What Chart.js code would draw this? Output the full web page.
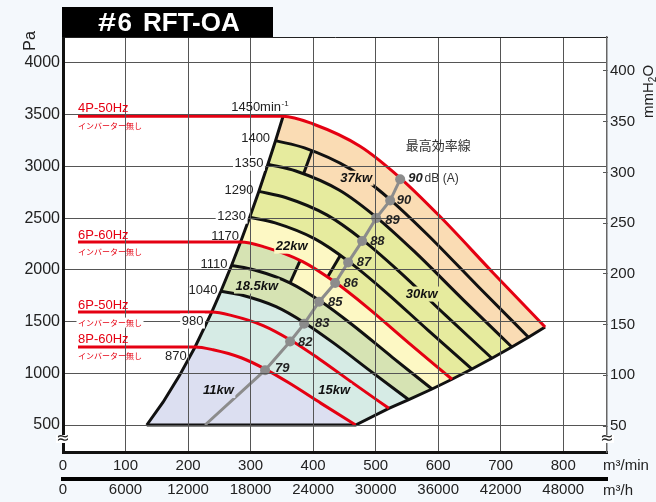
<!DOCTYPE html>
<html lang="ja">
<head>
<meta charset="utf-8">
<title>#6 RFT-OA</title>
<script src="https://cdn.jsdelivr.net/npm/chart.js@4.4.0/dist/chart.umd.min.js"></script>
<style>
  html, body { margin: 0; padding: 0; background: #f4f8fc; overflow: hidden; }
  canvas { display: block; }
</style>
</head>
<body>
<canvas id="curvas" width="656" height="502"></canvas>
<script>
// ===== datos: [m3/min, Pa] =====
const velocidades = [870, 980, 1040, 1110, 1170, 1230, 1290, 1350, 1400, 1450];

const c870  = [[211.2,1254.6],[240.0,1227.6],[285.0,1150.2],[323.4,1040.4],[361.8,905.4],[412.8,709.2],[468,500]];
const c980  = [[237.9,1591.9],[270.3,1557.6],[321.0,1459.4],[364.3,1320.1],[407.5,1148.8],[465.0,899.9],[521.1,661.0]];
const c1040 = [[252.5,1792.8],[286.9,1754.2],[340.7,1643.6],[386.6,1486.7],[432.5,1293.8],[493.5,1013.4],[553.0,744.4]];
const c1110 = [[269.5,2042.3],[306.2,1998.4],[363.6,1872.4],[412.6,1693.6],[461.6,1473.9],[526.7,1154.5],[590.2,848.0]];
const c1170 = [[284.0,2269.0],[322.8,2220.2],[383.3,2080.2],[434.9,1881.6],[486.6,1637.5],[555.1,1282.6],[622.1,942.1]];
const c1230 = [[298.6,2507.7],[339.3,2453.7],[402.9,2299.0],[457.2,2079.6],[511.5,1809.7],[583.6,1417.6],[654.0,1041.2]];
const c1290 = [[313.2,2758.3],[355.9,2699.0],[422.6,2528.8],[479.5,2287.4],[536.5,1990.6],[612.1,1559.2],[685.9,1145.3]];
const c1350 = [[327.7,3020.9],[372.4,2955.9],[442.2,2769.5],[501.8,2505.1],[561.4,2180.1],[640.5,1707.7],[717.8,1254.3]];
const c1400 = [[339.9,3248.8],[386.2,3178.9],[458.6,2978.4],[520.4,2694.1],[582.2,2344.5],[664.3,1836.5],[744.4,1348.9]];
const c1450 = [[352,3485],[400,3410],[475,3195],[539,2890],[603,2515],[688,1970],[771,1447]];

// velocidades con motor sin inversor (lineas rojas)
const rojas = [870, 980, 1170, 1450];
const inicioRojas = 24;   // m3/min donde empieza la linea horizontal

// pie de la linea de bombeo (surge) por debajo de 870
const pieSurge = [[134,500],[160,720],[186,975]];

// divisores de potencia (kW)
const divisor1 = [[384.5,2923.6],[397.9,3146]];   // 30kw / 37kw
const divisor2 = [[422.9,1928],[443.2,2136]];     // 22kw / 30kw
const divisor3 = [[363.2,1873],[379.2,2090]];     // 18.5kw / 22kw

// linea de maximo rendimiento
const eficienciaQ = [227.2, 323.2, 363.2, 385.6, 409.6, 435.2, 456, 478.4, 500.8, 523.2, 539.2];
const eficienciaP = [500, 1030, 1308, 1478, 1692, 1872, 2072, 2278, 2500, 2670, 2875];
const eficienciaDb = ['', '79', '82', '83', '85', '86', '87', '88', '89', '90', '90'];

// ticks de los ejes
const ticksPa = [500, 1000, 1500, 2000, 2500, 3000, 3500, 4000];
const ticksMm = [50, 100, 150, 200, 250, 300, 350, 400];
const ticksMin = [0, 100, 200, 300, 400, 500, 600, 700, 800];
const ticksHora = [0, 6000, 12000, 18000, 24000, 30000, 36000, 42000, 48000];

// ===== estilos =====
const FUENTE = "'Liberation Sans', Arial, sans-serif";
const FUENTE_JP = "'Noto Sans CJK JP', sans-serif";
const ROJO = '#e50012';
const colores = { c37: '#fadcb4', c30: '#e6eb9e', c22: '#fdf8c4', c18: '#d6e3b3', c15: '#d6ebe5', c11: '#dcdff1' };

const curvas = [c870, c980, c1040, c1110, c1170, c1230, c1290, c1350, c1400, c1450];
const surge = pieSurge.concat(curvas.map(c => c[0]));
const limite = [pieSurge[0]].concat(curvas.map(c => c[c.length - 1]));

function pts(arr) { return arr.map(p => ({ x: p[0], y: p[1] })); }

// borde superior de la zona: surge hasta el inicio de la curva i y luego la curva
function arriba(i) { return surge.slice(0, pieSurge.length + i).concat(curvas[i]); }

var datasets = [];
function nuevo(d) {
    datasets.push(Object.assign({
        pointRadius: 0, pointHoverRadius: 0, fill: false, tension: 0,
        borderWidth: 0, borderColor: 'transparent', backgroundColor: 'transparent'
    }, d));
    return datasets.length - 1;
}

// limite inferior + derecho (tambien se dibuja)
const iLimite = nuevo({ data: pts(limite), borderColor: '#111', borderWidth: 3, order: 2 });

function capa(path, color, orden) {
    nuevo({ data: pts(path), fill: { target: iLimite }, backgroundColor: color, order: orden });
}
function cuadro(sup, inf, color, orden) {
    const j = nuevo({ data: pts(inf), order: 40 });
    nuevo({ data: pts(sup), fill: { target: j }, backgroundColor: color, order: orden });
}
function antes(c, q) { return c.filter(p => p[0] < q); }

// capas de color, de arriba hacia abajo
capa(arriba(9), colores.c37, 30);
capa(arriba(7), colores.c30, 29);
cuadro([c1350[0]].concat(antes(c1400, divisor1[1][0])).concat([divisor1[1]]),
       antes(c1350, divisor1[0][0]).concat(divisor1), colores.c30, 28);
capa(arriba(4), colores.c22, 27);
cuadro([c1170[0]].concat(antes(c1230, divisor2[1][0])).concat([divisor2[1]]),
       antes(c1170, divisor2[0][0]).concat(divisor2), colores.c22, 26);
capa(arriba(3), colores.c18, 25);
cuadro([c1110[0]].concat(antes(c1170, divisor3[1][0])).concat([divisor3[1]]),
       antes(c1110, divisor3[0][0]).concat(divisor3), colores.c18, 24);
capa(arriba(2), colores.c15, 23);
capa(arriba(0), colores.c11, 22);

// curvas de velocidad
curvas.forEach((c, i) => {
    const roja = rojas.includes(velocidades[i]);
    const datos = roja ? [[inicioRojas, c[0][1]]].concat(c) : c;
    nuevo({ data: pts(datos), borderColor: roja ? ROJO : '#111', borderWidth: 3,
            cubicInterpolationMode: 'monotone', order: roja ? 1 : 2 });
});
nuevo({ data: pts(surge), borderColor: '#111', borderWidth: 3, order: 2 });
[divisor1, divisor2, divisor3].forEach(d => nuevo({ data: pts(d), borderColor: '#111', borderWidth: 3, order: 2 }));

// linea de maximo rendimiento con puntos
nuevo({
    data: eficienciaQ.map((q, i) => ({ x: q, y: eficienciaP[i] })),
    borderColor: '#8c8c8c', borderWidth: 3,
    pointRadius: eficienciaQ.map((q, i) => i === 0 ? 0 : 5),
    pointBackgroundColor: '#8c8c8c', pointBorderWidth: 0, order: 0
});

// ===== textos =====
// [texto, Q, P, fondo blanco (si va sobre la reticula)]
const etiquetasVel = [['1400',331.2,3268,false],['1350',320.5,3031,true],['1290',304.5,2765,false],['1230',292.8,2519,true],
    ['1170',281.6,2326,false],['1110',262.9,2049,false],['1040',246.9,1799,false],['980',224.5,1505,true],['870',198,1167,false]];
const etiquetasMotor = [['4P-50Hz',3562,3389],['6P-60Hz',2336,2171],['6P-50Hz',1659,1490],['8P-60Hz',1326,1167]];
const etiquetasKw = [['37kw',468.8,2886,colores.c37],['30kw',573.6,1766,colores.c30],['22kw',365.6,2229,colores.c22],
    ['18.5kw',309.9,1843,colores.c18],['15kw',433.6,833,colores.c15],['11kw',248.5,833,colores.c11]];
const posDb = [null,[339.2,1051],[376,1297],[403.2,1485],[424,1688],[448.5,1872],[469.9,2075],[491.2,2277],[515.2,2480],[533.9,2674],[552,2886]];

function escribir(ctx, t, x, y, align, color, fondo) {
    const w = ctx.measureText(t).width;
    const h = parseFloat(ctx.font.match(/([\d.]+)px/)[1]);
    const x0 = align === 'right' ? x - w : (align === 'center' ? x - w / 2 : x);
    if (fondo) {
        ctx.fillStyle = fondo;
        ctx.fillRect(x0 - 1.5, y - h / 2 - 1, w + 3, h + 2);
    }
    ctx.fillStyle = color;
    ctx.textAlign = 'left';
    ctx.fillText(t, x0, y);
    return w;
}

const decoracion = {
    id: 'decoracion',
    beforeDraw(chart) {
        const a = chart.chartArea;
        chart.ctx.save();
        chart.ctx.fillStyle = '#ffffff';
        chart.ctx.fillRect(a.left, a.top, a.right - a.left, a.bottom - a.top);
        chart.ctx.restore();
    },
    afterDraw(chart) {
        const ctx = chart.ctx;
        const X = q => chart.scales.x.getPixelForValue(q);
        const Y = p => chart.scales.y.getPixelForValue(p);
        ctx.save();

        // caja del titulo
        ctx.fillStyle = '#000';
        ctx.fillRect(62, 7, 211, 30);
        ctx.fillStyle = '#fff';
        ctx.textBaseline = 'alphabetic';
        ctx.font = 'bold 26px ' + FUENTE;
        ctx.save();
        ctx.translate(98, 30.5);
        ctx.scale(1.25, 1);
        ctx.fillText('#', 0, 0);
        ctx.restore();
        ctx.fillText('6', 117.5, 30.5);
        ctx.fillText('RFT-OA', 143, 30.5);

        ctx.textBaseline = 'middle';

        // unidades
        ctx.save();
        ctx.translate(31, 41);
        ctx.rotate(-Math.PI / 2);
        ctx.font = '16px ' + FUENTE;
        ctx.fillStyle = '#222';
        ctx.textAlign = 'center';
        ctx.fillText('Pa', 0, 0);
        ctx.restore();

        ctx.save();
        ctx.translate(649, 92);
        ctx.rotate(-Math.PI / 2);
        ctx.fillStyle = '#222';
        ctx.font = '15px ' + FUENTE;
        let x0 = -26;
        ctx.fillText('mmH', x0, 0);
        x0 += ctx.measureText('mmH').width;
        ctx.font = '10px ' + FUENTE;
        ctx.fillText('2', x0, 4);
        x0 += ctx.measureText('2').width;
        ctx.font = '15px ' + FUENTE;
        ctx.fillText('O', x0, 0);
        ctx.restore();

        ctx.font = '15px ' + FUENTE;
        escribir(ctx, 'm³/min', 603, 466, 'left', '#222');
        escribir(ctx, 'm³/h', 603, 491, 'left', '#222');

        // cortes del eje
        [chart.chartArea.left, chart.chartArea.right].forEach(xc => {
            ctx.fillStyle = '#fff';
            ctx.fillRect(xc - 7, 435, 14, 8);
            ctx.font = '16px "DejaVu Sans"';
            ctx.fillStyle = '#222';
            ctx.textAlign = 'center';
            ctx.fillText('≈', xc, 439);
        });

        // velocidades
        ctx.font = '13px ' + FUENTE;
        const w1450 = escribir(ctx, '1450min', X(269), Y(3567), 'left', '#222');
        ctx.font = '8px ' + FUENTE;
        escribir(ctx, '-1', X(269) + w1450 + 0.5, Y(3567) - 4, 'left', '#222');
        ctx.font = '13px ' + FUENTE;
        etiquetasVel.forEach(e => escribir(ctx, e[0], X(e[1]), Y(e[2]), 'right', '#222', e[3] ? '#fff' : null));

        // motores sin inversor
        etiquetasMotor.forEach(e => {
            ctx.font = '13px ' + FUENTE;
            escribir(ctx, e[0], X(inicioRojas), Y(e[1]), 'left', ROJO);
            ctx.font = '8px ' + FUENTE_JP;
            escribir(ctx, 'インバーター無し', X(inicioRojas), Y(e[2]), 'left', ROJO, e[2] === 1490 ? '#fff' : null);
        });

        // potencias
        ctx.font = 'italic bold 13px ' + FUENTE;
        etiquetasKw.forEach(e => escribir(ctx, e[0], X(e[1]), Y(e[2]), 'center', '#111', e[3]));

        // ruido dB(A)
        eficienciaDb.forEach((t, i) => {
            if (!t) return;
            const p = posDb[i];
            ctx.font = 'italic bold 13px ' + FUENTE;
            const w = escribir(ctx, t, X(p[0]), Y(p[1]), 'left', '#222');
            if (i === eficienciaDb.length - 1) {
                ctx.font = '12px ' + FUENTE;
                escribir(ctx, 'dB (A)', X(p[0]) + w + 2, Y(p[1]), 'left', '#333');
            }
        });

        ctx.font = '13px ' + FUENTE_JP;
        escribir(ctx, '最高効率線', X(600), Y(3205), 'center', '#333');

        ctx.restore();
    }
};

function fijarTicks(lista) {
    return function (s) { s.ticks = lista.map(v => ({ value: v })); };
}

Chart.defaults.font.family = FUENTE;
Chart.defaults.color = '#222';

const config = {
    type: 'line',
    data: { datasets: datasets },
    options: {
        responsive: false,
        animation: false,
        events: [],
        layout: { padding: { top: 37, left: 0, right: 0, bottom: 0 }, autoPadding: false },
        plugins: { legend: { display: false }, tooltip: { enabled: false } },
        scales: {
            x: {
                type: 'linear', position: 'bottom', weight: 0, min: 0, max: 870,
                afterBuildTicks: fijarTicks(ticksMin),
                ticks: { padding: 5, maxRotation: 0, autoSkip: false, font: { size: 15 }, callback: v => String(v) },
                grid: { color: '#555', lineWidth: 1, drawTicks: false, z: 1 },
                border: { color: '#111', width: 3, z: 2 },
                afterFit: s => { s.height = 27; }
            },
            xh: {
                type: 'linear', position: 'bottom', weight: 1, min: 0, max: 52200,
                afterBuildTicks: fijarTicks(ticksHora),
                ticks: { padding: 2, maxRotation: 0, autoSkip: false, font: { size: 15 }, callback: v => String(v) },
                grid: { display: false, drawTicks: false },
                border: { color: '#000', width: 4, z: 2 },
                afterFit: s => { s.height = 23; }
            },
            xt: {
                type: 'linear', position: 'top', min: 0, max: 870,
                ticks: { display: false },
                grid: { display: false, drawTicks: false },
                border: { color: '#222', width: 1, z: 2 },
                afterFit: s => { s.height = 0; }
            },
            y: {
                type: 'linear', position: 'left', min: 239, max: 4251,
                afterBuildTicks: fijarTicks(ticksPa),
                ticks: { padding: 3, font: { size: 16 }, callback: v => String(v) },
                grid: { color: '#555', lineWidth: 1, drawTicks: false, z: 1 },
                border: { color: '#111', width: 3, z: 2 },
                afterFit: s => { s.width = 63; }
            },
            y2: {
                type: 'linear', position: 'right', min: 239 / 9.80665, max: 4251 / 9.80665,
                afterBuildTicks: fijarTicks(ticksMm),
                ticks: { padding: 7, font: { size: 15 }, callback: v => String(v) },
                grid: { drawOnChartArea: false, drawTicks: true, tickLength: -4, color: '#555' },
                border: { color: '#666', width: 1.5, z: 2 },
                afterFit: s => { s.width = 49; }
            }
        }
    },
    plugins: [decoracion]
};

new Chart(document.getElementById('curvas').getContext('2d'), config);
</script>
</body>
</html>
